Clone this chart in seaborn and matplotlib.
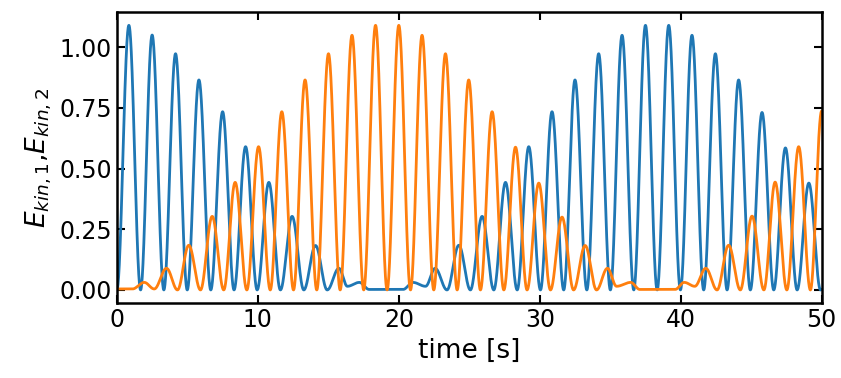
import numpy as np
import pandas as pd
import matplotlib
matplotlib.use("Agg")
import matplotlib.pyplot as plt
import matplotlib.ticker as mticker
import seaborn as sns

# peaks and troughs (time [s], kinetic energy)
blue_t = [0.0, 0.85, 1.68, 2.5, 3.33, 4.16, 4.99, 5.82, 6.66, 7.5, 8.31, 9.13,
          9.95, 10.78, 11.6, 12.43, 13.26, 14.09, 14.92, 15.75, 16.35, 17.2,
          17.9, 20.3, 21.0, 21.9, 22.58, 23.42, 24.26, 25.08, 25.91, 26.74,
          27.57, 28.4, 29.22, 30.05, 30.87, 31.7, 32.5, 33.34, 34.18, 35.01,
          35.84, 36.67, 37.5, 38.33, 39.15, 39.98, 40.8, 41.63, 42.46, 43.29,
          44.11, 44.94, 45.77, 46.6, 47.43, 48.26, 49.09, 49.92, 50.0]
blue_e = [0.0, 1.09, 0.0, 1.05, 0.0, 0.973, 0.0, 0.865, 0.0, 0.734, 0.0, 0.59,
          0.0, 0.443, 0.0, 0.303, 0.0, 0.183, 0.0, 0.089, 0.015, 0.031,
          0.002, 0.002, 0.031, 0.015, 0.089, 0.0, 0.184, 0.0, 0.303, 0.0,
          0.443, 0.0, 0.59, 0.0, 0.734, 0.0, 0.865, 0.0, 0.973, 0.0,
          1.049, 0.0, 1.09, 0.0, 1.09, 0.0, 1.049, 0.0, 0.973, 0.0,
          0.865, 0.0, 0.731, 0.0, 0.585, 0.0, 0.44, 0.0, 0.003]

orange_t = [0.0, 1.1, 1.94, 2.65, 3.52, 4.3, 5.1, 5.93, 6.76, 7.58, 8.39, 9.22,
            10.05, 10.88, 11.7, 12.53, 13.35, 14.18, 15.01, 15.84, 16.68,
            17.51, 18.35, 19.17, 20.0, 20.83, 21.65, 22.48, 23.31, 24.14,
            24.96, 25.79, 26.62, 27.45, 28.28, 29.1, 29.93, 30.76, 31.58,
            32.4, 33.22, 34.03, 34.8, 35.45, 36.45, 37.1, 39.6, 40.25, 41.0,
            41.78, 42.58, 43.4, 44.23, 45.06, 45.9, 46.7, 47.53, 48.37, 49.2,
            50.0]
orange_e = [0.004, 0.004, 0.031, 0.004, 0.089, 0.0, 0.184, 0.0, 0.303, 0.0,
            0.443, 0.0, 0.59, 0.0, 0.734, 0.0, 0.865, 0.0, 0.973, 0.0, 1.049,
            0.0, 1.09, 0.0, 1.09, 0.0, 1.049, 0.0, 0.973, 0.0,
            0.865, 0.0, 0.734, 0.0, 0.588, 0.0, 0.44, 0.0, 0.30,
            0.0, 0.183, 0.0, 0.089, 0.015, 0.031, 0.002, 0.002, 0.031, 0.015,
            0.089, 0.0, 0.184, 0.0, 0.304, 0.0, 0.444, 0.0, 0.59, 0.0,
            0.737]


def smooth_through(knot_t, knot_e, t):
    # half-cosine easing between consecutive extrema (sin^2 shaped lobes)
    knot_t = np.asarray(knot_t)
    knot_e = np.asarray(knot_e)
    i = np.clip(np.searchsorted(knot_t, t, side="right") - 1, 0, len(knot_t) - 2)
    s = (t - knot_t[i]) / (knot_t[i + 1] - knot_t[i])
    return knot_e[i] + (knot_e[i + 1] - knot_e[i]) * (1 - np.cos(np.pi * s)) / 2


time = np.linspace(0, 50, 5001)
df = pd.DataFrame({
    "time": time,
    "e1": smooth_through(blue_t, blue_e, time),
    "e2": smooth_through(orange_t, orange_e, time),
})

sns.set_style("ticks")
plt.rcParams["font.family"] = ["DejaVu Sans"]
plt.rcParams["axes.labelcolor"] = "black"
plt.rcParams["text.color"] = "black"

fig, ax = plt.subplots(figsize=(8.41, 3.78), dpi=100)
sns.lineplot(data=df, x="time", y="e1", color="#1f77b4", lw=2.0, estimator=None, ax=ax)
sns.lineplot(data=df, x="time", y="e2", color="#ff7f0e", lw=2.0, estimator=None, ax=ax)

ax.set_xlim(0, 50)
ax.yaxis.set_major_locator(mticker.MultipleLocator(0.25))
ax.yaxis.set_major_formatter(mticker.FormatStrFormatter("%.2f"))
ax.set_xlabel("time [s]", fontsize=19, color="black")
ax.set_ylabel(r"$E_{kin,1}$,$E_{kin,2}$", fontsize=19, color="black")
ax.tick_params(direction="in", top=True, right=True, length=6, width=1.5,
               labelsize=17, colors="black")
for sp in ax.spines.values():
    sp.set_linewidth(1.8)
    sp.set_color("black")

fig.subplots_adjust(left=0.139, right=0.977, top=0.968, bottom=0.198)
fig.savefig("out.png")
